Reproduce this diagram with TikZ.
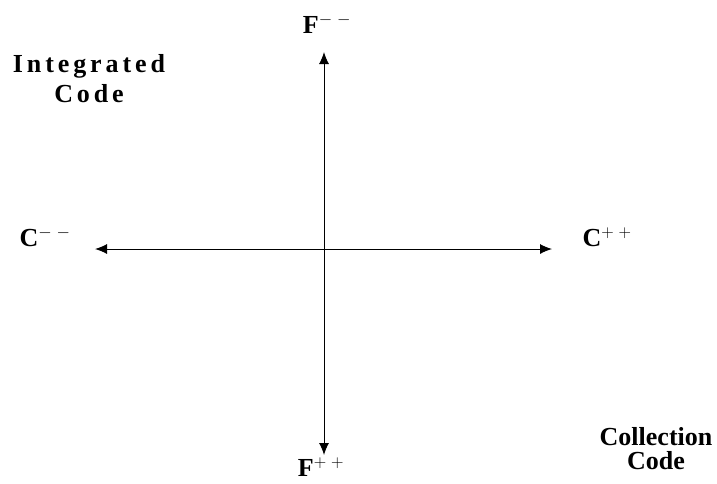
\documentclass[tikz,border=0pt]{standalone}
\usepackage{fontspec}
\setmainfont{Liberation Serif}
\usetikzlibrary{arrows.meta, positioning}

\begin{document}
\begin{tikzpicture}[
  x=1pt, y=-1pt,
  lbl/.style={font=\fontsize{26}{24}\selectfont\bfseries, align=center, inner sep=0pt},
  arr/.style={{Latex[length=12pt,width=10pt]}-{Latex[length=12pt,width=10pt]}, line width=1pt}
]
\useasboundingbox (0,0) rectangle (717,483);
\coordinate (ftop) at (324,52);
\coordinate (fbot) at (324,455);
\coordinate (cleft) at (95,249);
\coordinate (cright) at (552,249);

\node[lbl] (fminus) at (327,24) {F$^{-\;-}$};
\node[lbl] (fplus) at (321,467) {F$^{+\;+}$};
\node[lbl] (cminus) at (45,237) {C$^{-\;-}$};
\node[lbl] (cplus) at (607,237) {C$^{+\;+}$};
\node[lbl] (integ) at (89,79) {\addfontfeatures{LetterSpace=15}Integrated\\[6pt]\addfontfeatures{LetterSpace=15}Code};
\node[lbl] (collect) at (656,449) {Collection\\Code};

\draw[arr] (ftop) -- (fbot);
\draw[arr] (cleft) -- (cright);
\end{tikzpicture}
\end{document}
